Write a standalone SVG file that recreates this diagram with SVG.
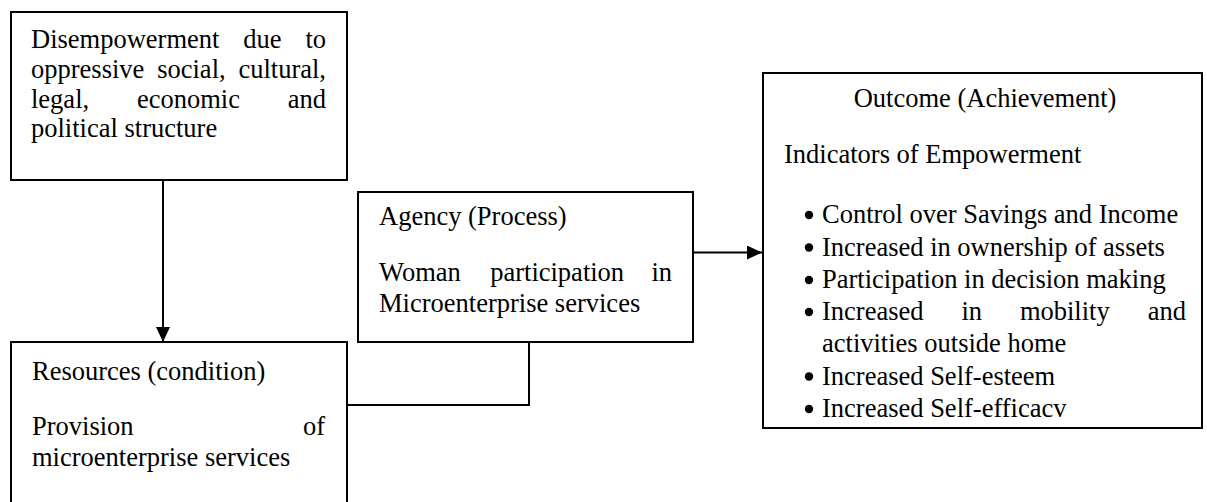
<svg xmlns="http://www.w3.org/2000/svg" width="1207" height="502" viewBox="0 0 1207 502">
<style>
.box{fill:#fff;stroke:#000;stroke-width:2}
.t{font-family:"Liberation Serif","Times New Roman",serif;font-size:26.5px;fill:#000}
.e{text-anchor:end}
.m{text-anchor:middle}
.c{fill:none;stroke:#000;stroke-width:2}
.b{fill:#000}
</style>
<defs>
<marker id="ah" markerWidth="15" markerHeight="14" refX="15" refY="7" orient="auto" markerUnits="userSpaceOnUse">
<path d="M0,0 L15,7 L0,14 Z" fill="#000"/>
</marker>
</defs>
<rect width="1207" height="502" fill="#fff"/>
<g id="connectors">
<line class="c" x1="163" y1="180" x2="163" y2="342" marker-end="url(#ah)"/>
<line class="c" x1="693" y1="252.5" x2="762" y2="252.5" marker-end="url(#ah)"/>
<polyline class="c" points="347,405 529,405 529,342"/>
</g>
<g id="disempowerment">
<rect class="box" x="11" y="12" width="336" height="168"/>
<text class="t" x="31" y="48">Disempowerment</text>
<text class="t" x="243.2" y="48">due</text>
<text class="t e" x="326" y="48">to</text>
<text class="t" x="31" y="78">oppressive</text>
<text class="t" x="157.2" y="78">social,</text>
<text class="t e" x="326" y="78">cultural,</text>
<text class="t" x="31" y="107.5">legal,</text>
<text class="t" x="136.9" y="107.5">economic</text>
<text class="t e" x="326" y="107.5">and</text>
<text class="t" x="31" y="137">political structure</text>
</g>
<g id="resources">
<rect class="box" x="11" y="342" width="336" height="175"/>
<text class="t" x="32" y="380">Resources (condition)</text>
<text class="t" x="32" y="435">Provision</text>
<text class="t e" x="325" y="435">of</text>
<text class="t" x="32" y="465.5">microenterprise services</text>
</g>
<g id="agency">
<rect class="box" x="358" y="192" width="335" height="150"/>
<text class="t" x="379" y="225">Agency (Process)</text>
<text class="t" x="379" y="281">Woman</text>
<text class="t" x="490.2" y="281">participation</text>
<text class="t e" x="672" y="281">in</text>
<text class="t" x="379" y="311.5">Microenterprise services</text>
</g>
<g id="outcome">
<rect class="box" x="763" y="73" width="439" height="355"/>
<text class="t m" x="985" y="107">Outcome (Achievement)</text>
<text class="t" x="784" y="163">Indicators of Empowerment</text>
<circle class="b" cx="809" cy="215" r="4.2"/>
<text class="t" x="822" y="223">Control over Savings and Income</text>
<circle class="b" cx="809" cy="247.5" r="4.2"/>
<text class="t" x="822" y="255.5">Increased in ownership of assets</text>
<circle class="b" cx="809" cy="280" r="4.2"/>
<text class="t" x="822" y="288">Participation in decision making</text>
<circle class="b" cx="809" cy="312" r="4.2"/>
<text class="t" x="822" y="320">Increased</text>
<text class="t" x="961.4" y="320">in</text>
<text class="t" x="1019.9" y="320">mobility</text>
<text class="t e" x="1186" y="320">and</text>
<text class="t" x="822" y="352">activities outside home</text>
<circle class="b" cx="809" cy="376.5" r="4.2"/>
<text class="t" x="822" y="384.5">Increased Self-esteem</text>
<circle class="b" cx="809" cy="409" r="4.2"/>
<text class="t" x="822" y="417">Increased Self-efficacv</text>
</g>
</svg>
